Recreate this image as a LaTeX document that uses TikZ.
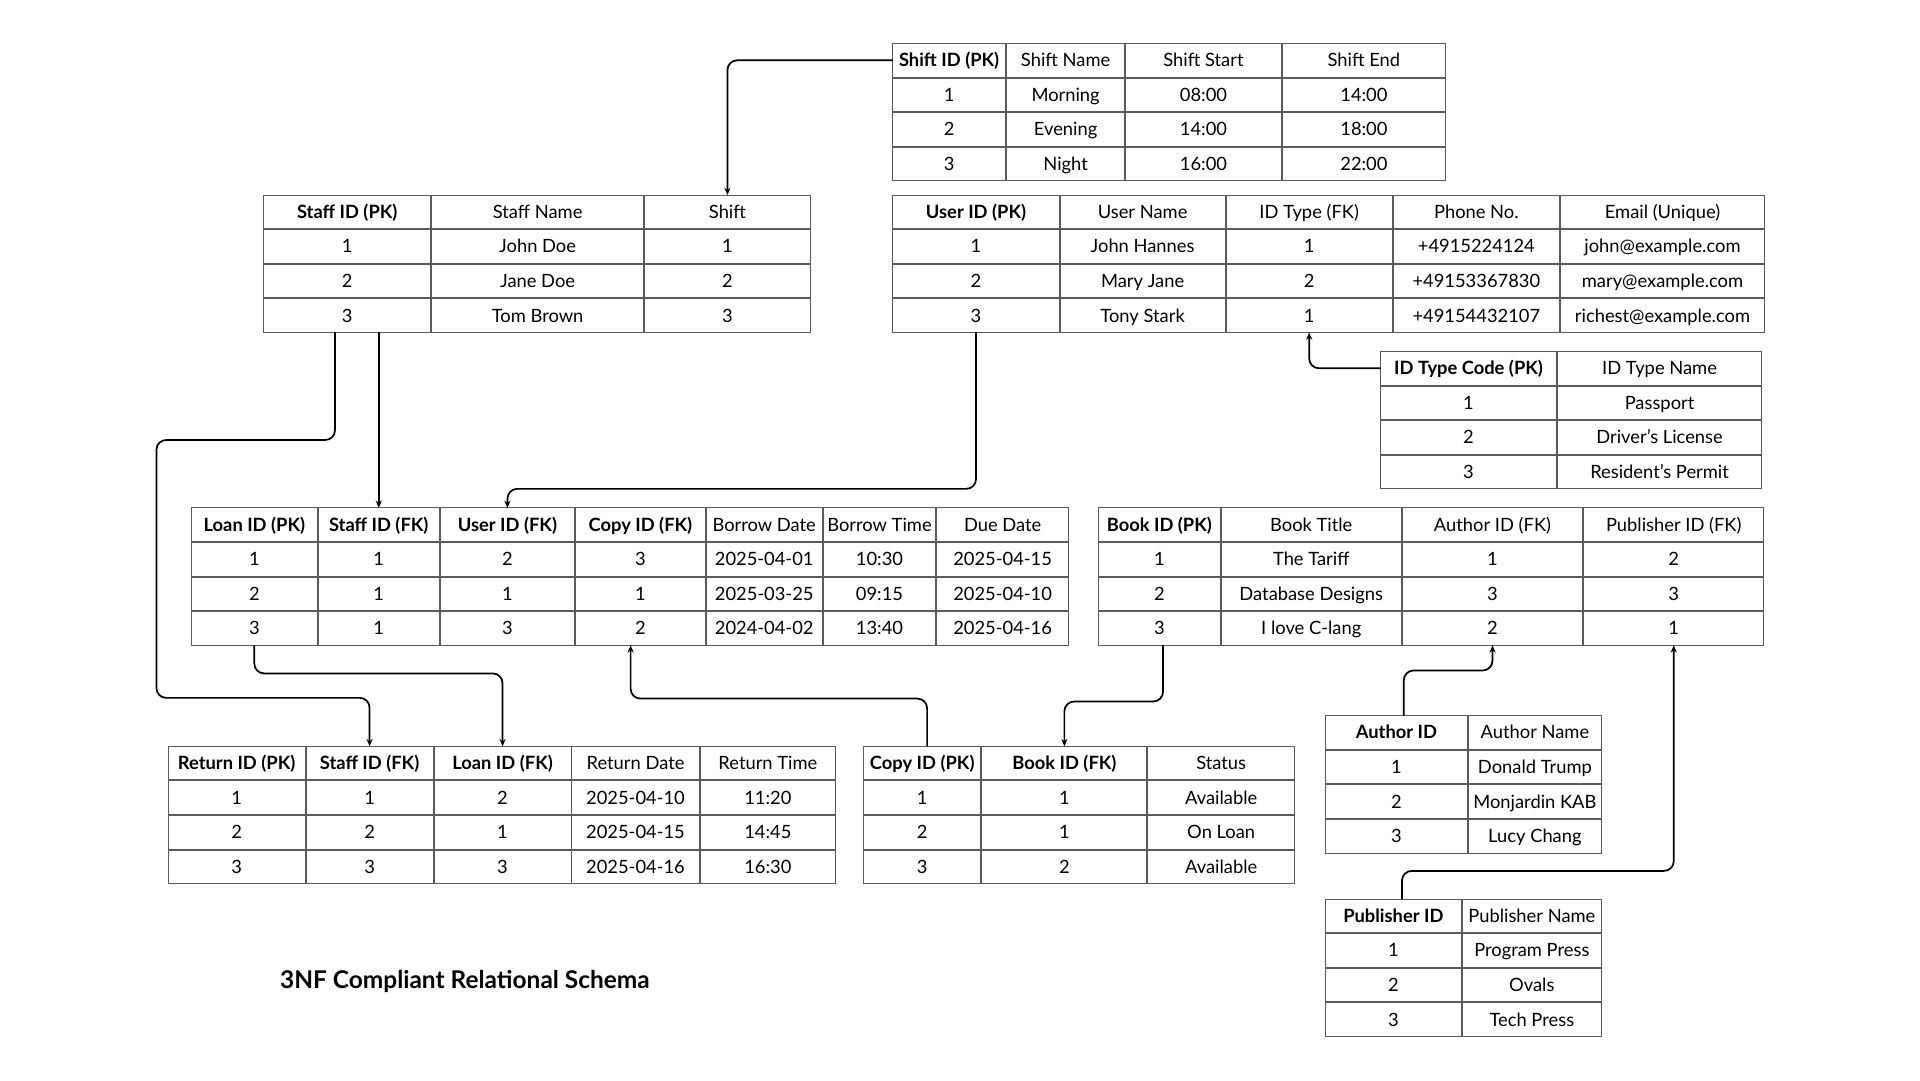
\documentclass[tikz,border=0pt]{standalone}
\usepackage{fontspec}
\setmainfont{Lato}
\usetikzlibrary{matrix,arrows.meta}
\definecolor{gridgrey}{HTML}{5A5A5A}
\tikzset{
	dbtable/.style={matrix of nodes, anchor=north west, inner sep=0pt, column sep=0pt, row sep=0pt,
		nodes={draw=gridgrey, line width=0.8pt, minimum height=27.5pt, text height=10.5pt, text depth=0pt, inner sep=0pt, outer sep=0pt, anchor=center, font=\fontsize{15}{18}\selectfont}},
	cw/.style 2 args={column #1/.style={nodes={minimum width=#2}}},
	link/.style={line width=1.4pt, rounded corners=8pt, -{Stealth[length=6pt,width=5pt]}},
}
\begin{document}
\begin{tikzpicture}[x=1pt,y=-1pt]

	\useasboundingbox (0,0) rectangle (1571,884);

	\matrix (shift) [dbtable, cw={1}{92pt}, cw={2}{97pt}, cw={3}{127pt}, cw={4}{134pt}] at (730,35) {
		\textbf{Shift ID (PK)} & Shift Name & Shift Start & Shift End \\
		1 & Morning & 08:00 & 14:00 \\
		2 & Evening & 14:00 & 18:00 \\
		3 & Night & 16:00 & 22:00 \\
	};
	\matrix (staff) [dbtable, cw={1}{137pt}, cw={2}{173pt}, cw={3}{136pt}] at (215,159) {
		\textbf{Staff ID (PK)} & Staff Name & Shift \\
		1 & John Doe & 1 \\
		2 & Jane Doe & 2 \\
		3 & Tom Brown & 3 \\
	};
	\matrix (user) [dbtable, cw={1}{136pt}, cw={2}{135pt}, cw={3}{136pt}, cw={4}{136pt}, cw={5}{167pt}] at (730,159) {
		\textbf{User ID (PK)} & User Name & ID Type (FK) & Phone No. & Email (Unique) \\
		1 & John Hannes & 1 & +4915224124 & john@example.com \\
		2 & Mary Jane & 2 & +49153367830 & mary@example.com \\
		3 & Tony Stark & 1 & +49154432107 & richest@example.com \\
	};
	\matrix (idtype) [dbtable, cw={1}{144pt}, cw={2}{167pt}] at (1129,287) {
		\textbf{ID Type Code (PK)} & ID Type Name \\
		1 & Passport \\
		2 & Driver’s License \\
		3 & Resident’s Permit \\
	};
	\matrix (loan) [dbtable, cw={1}{103pt}, cw={2}{99pt}, cw={3}{110pt}, cw={4}{106pt}, cw={5}{95pt}, cw={6}{92pt}, cw={7}{108pt}] at (156,415) {
		\textbf{Loan ID (PK)} & \textbf{Staff ID (FK)} & \textbf{User ID (FK)} & \textbf{Copy ID (FK)} & Borrow Date & Borrow Time & Due Date \\
		1 & 1 & 2 & 3 & 2025-04-01 & 10:30 & 2025-04-15 \\
		2 & 1 & 1 & 1 & 2025-03-25 & 09:15 & 2025-04-10 \\
		3 & 1 & 3 & 2 & 2024-04-02 & 13:40 & 2025-04-16 \\
	};
	\matrix (book) [dbtable, cw={1}{100pt}, cw={2}{147pt}, cw={3}{148pt}, cw={4}{147pt}] at (898,415) {
		\textbf{Book ID (PK)} & Book Title & Author ID (FK) & Publisher ID (FK) \\
		1 & The Tariff & 1 & 2 \\
		2 & Database Designs & 3 & 3 \\
		3 & I love C-lang & 2 & 1 \\
	};
	\matrix (return) [dbtable, cw={1}{112pt}, cw={2}{104pt}, cw={3}{112pt}, cw={4}{104pt}, cw={5}{111pt}] at (137,610) {
		\textbf{Return ID (PK)} & \textbf{Staff ID (FK)} & \textbf{Loan ID (FK)} & Return Date & Return Time \\
		1 & 1 & 2 & 2025-04-10 & 11:20 \\
		2 & 2 & 1 & 2025-04-15 & 14:45 \\
		3 & 3 & 3 & 2025-04-16 & 16:30 \\
	};
	\matrix (copy) [dbtable, cw={1}{96pt}, cw={2}{135pt}, cw={3}{120pt}] at (706,610) {
		\textbf{Copy ID (PK)} & \textbf{Book ID (FK)} & Status \\
		1 & 1 & Available \\
		2 & 1 & On Loan \\
		3 & 2 & Available \\
	};
	\matrix (author) [dbtable, cw={1}{116pt}, cw={2}{109pt}] at (1084,585) {
		\textbf{Author ID} & Author Name \\
		1 & Donald Trump \\
		2 & Monjardin KAB \\
		3 & Lucy Chang \\
	};
	\matrix (publisher) [dbtable, cw={1}{111pt}, cw={2}{114pt}] at (1084,735) {
		\textbf{Publisher ID} & Publisher Name \\
		1 & Program Press \\
		2 & Ovals \\
		3 & Tech Press \\
	};

	\draw [link] (shift-1-1.west) -| (staff-1-3.north);
	\draw [link] ([xshift=-10pt]staff-4-1.south) -- ++(0,88) -| (128,571) -| (return-1-2.north);
	\draw [link] (staff-4-1.south -| loan-1-2.north) -- (loan-1-2.north);
	\draw [link] (user-4-1.south) -- ++(0,128) -| (loan-1-3.north);
	\draw [link] (idtype-1-1.west) -| (user-4-3.south);
	\draw [link] (loan-4-1.south) -- ++(0,23) -| (return-1-3.north);
	\draw [link] ([xshift=4pt]copy-1-1.north) -- ++(0,-39) -| ([xshift=-8pt]loan-4-4.south);
	\draw [link] ([xshift=3pt]book-4-1.south) -- ++(0,46) -| (copy-1-2.north);
	\draw [link] ([xshift=6pt]author-1-1.north) -- ++(0,-37) -| (book-4-3.south);
	\draw [link] ([xshift=7pt]publisher-1-1.north) -- ++(0,-23) -| (book-4-4.south);

	\node [anchor=west, inner sep=0pt, font=\bfseries\fontsize{20}{24}\selectfont] (title) at (229,803) {3NF Compliant Relational Schema};
\end{tikzpicture}
\end{document}
